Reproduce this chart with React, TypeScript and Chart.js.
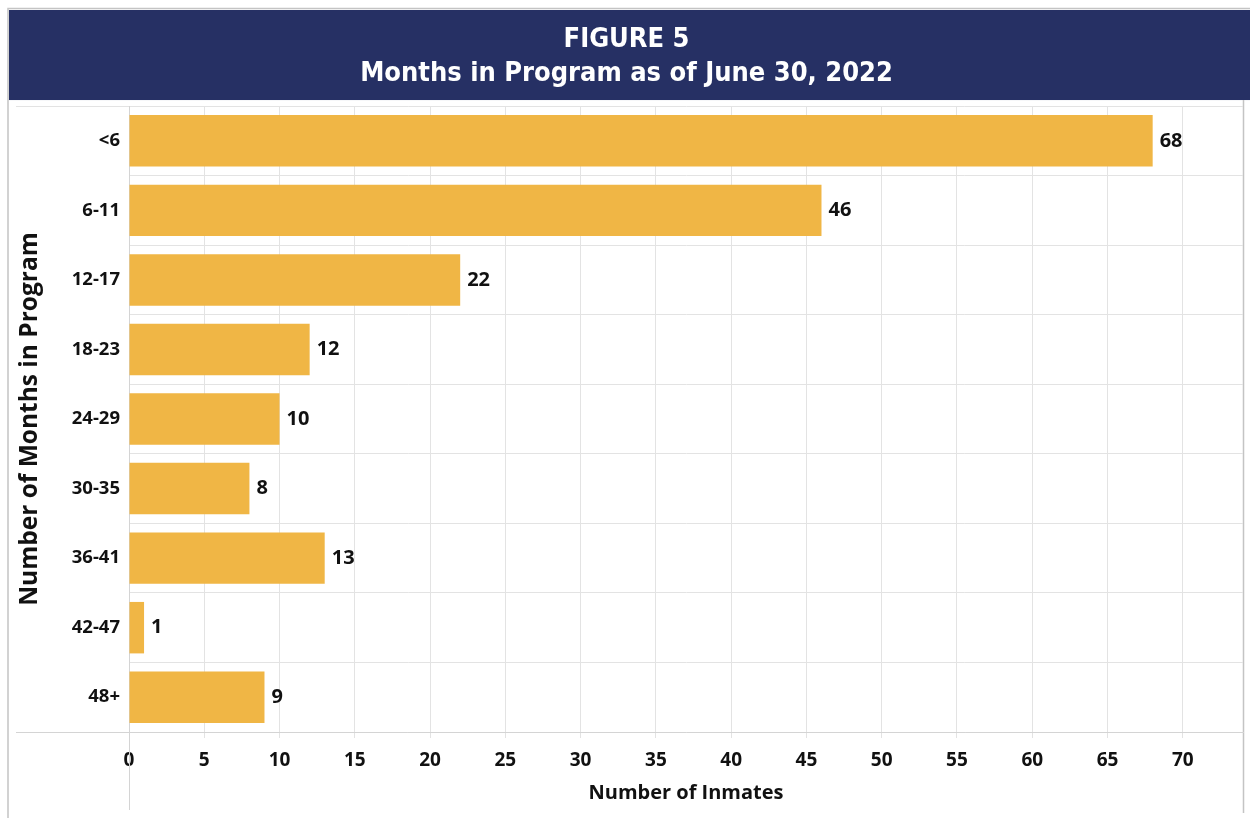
import { useEffect, useRef } from "react";
import { Chart, registerables } from "chart.js";

Chart.register(...registerables);

const categories = ["<6", "6-11", "12-17", "18-23", "24-29", "30-35", "36-41", "42-47", "48+"];
const inmates = [68, 46, 22, 12, 10, 8, 13, 1, 9];
const xTickValues = [0, 5, 10, 15, 20, 25, 30, 35, 40, 45, 50, 55, 60, 65, 70];
const titleLines = ["FIGURE 5", "Months in Program as of June 30, 2022"];
const xTitle = "Number of Inmates";
const yTitle = "Number of Months in Program";

const FONT = '"Open Sans", "DejaVu Sans", sans-serif';
const TITLE_FONT = '"DejaVu Sans Condensed", "DejaVu Sans", sans-serif';
const NAVY = "#263064";
const BAR = "#F0B645";
const GRID = "#E3E3E3";
const FRAME = "#C4C4C4";

const framePlugin = {
  id: "frameBanner",
  beforeDraw(chart: any) {
    const { ctx, width, height, chartArea } = chart;
    ctx.save();
    ctx.fillStyle = "#ffffff";
    ctx.fillRect(0, 0, width, height);
    // banner
    ctx.fillStyle = NAVY;
    ctx.fillRect(9, 10, width - 9, chartArea.top - 16);
    // frame
    ctx.strokeStyle = FRAME;
    ctx.lineWidth = 1.5;
    ctx.beginPath();
    ctx.moveTo(8, height);
    ctx.lineTo(8, 8.5);
    ctx.lineTo(width, 8.5);
    ctx.stroke();
    ctx.beginPath();
    ctx.moveTo(chartArea.right + 0.5, chartArea.top - 6);
    ctx.lineTo(chartArea.right + 0.5, height - 5);
    ctx.stroke();
    ctx.restore();
  },
  beforeDatasetsDraw(chart: any) {
    const { ctx, chartArea, height } = chart;
    ctx.save();
    ctx.strokeStyle = GRID;
    ctx.lineWidth = 1;
    ctx.beginPath();
    ctx.moveTo(16, Math.round(chartArea.top) + 0.5);
    ctx.lineTo(chartArea.left, Math.round(chartArea.top) + 0.5);
    ctx.stroke();
    ctx.strokeStyle = "#D4D4D4";
    ctx.beginPath();
    ctx.moveTo(16, Math.round(chartArea.bottom) + 0.5);
    ctx.lineTo(chartArea.left, Math.round(chartArea.bottom) + 0.5);
    ctx.stroke();
    ctx.beginPath();
    ctx.moveTo(Math.round(chartArea.left) + 0.5, chartArea.bottom);
    ctx.lineTo(Math.round(chartArea.left) + 0.5, height - 8);
    ctx.stroke();
    ctx.restore();
  },
};

const valueLabelPlugin = {
  id: "valueLabels",
  afterDatasetsDraw(chart: any) {
    const { ctx } = chart;
    const meta = chart.getDatasetMeta(0);
    const data = chart.data.datasets[0].data;
    ctx.save();
    ctx.fillStyle = "#111111";
    ctx.font = `bold 20px ${FONT}`;
    ctx.textAlign = "left";
    ctx.textBaseline = "middle";
    meta.data.forEach((bar: any, i: number) => {
      ctx.fillText(String(data[i]), bar.x + 7, bar.y);
    });
    ctx.restore();
  },
};

export default function App() {
  const canvasRef = useRef<HTMLCanvasElement>(null);

  useEffect(() => {
    document.body.style.margin = "0";
    const canvas = canvasRef.current;
    if (!canvas) return;
    const chart = new Chart(canvas, {
      type: "bar",
      data: {
        labels: categories,
        datasets: [
          {
            data: inmates,
            backgroundColor: BAR,
            borderWidth: 0,
            categoryPercentage: 1,
            barPercentage: 0.74,
          },
        ],
      },
      options: {
        indexAxis: "y",
        responsive: false,
        animation: false,
        devicePixelRatio: 1,
        layout: { padding: { left: 10, right: 7, top: 0, bottom: 0 } },
        plugins: {
          legend: { display: false },
          tooltip: { enabled: false },
          title: {
            display: true,
            text: titleLines,
            color: "#ffffff",
            font: { family: TITLE_FONT, size: 27, weight: "bold", lineHeight: 1.26 },
            padding: { top: 23, bottom: 15 },
          },
        },
        scales: {
          x: {
            type: "linear",
            min: 0,
            max: 74,
            afterBuildTicks: (scale: any) => {
              scale.ticks = xTickValues.map((v) => ({ value: v }));
            },
            afterFit: (scale: any) => {
              scale.height = 86;
            },
            grid: { color: GRID, drawTicks: true, tickLength: 6, tickColor: GRID },
            border: { color: "#D4D4D4" },
            ticks: {
              color: "#111111",
              padding: 11,
              font: { family: FONT, size: 19, weight: "bold" },
            },
            title: {
              display: true,
              text: xTitle,
              color: "#111111",
              font: { family: FONT, size: 20, weight: "bold" },
              padding: { top: 0, bottom: 13 },
            },
          },
          y: {
            type: "category",
            afterFit: (scale: any) => {
              scale.width = 119;
            },
            grid: { color: GRID, drawTicks: false },
            border: { color: "#D4D4D4" },
            ticks: {
              color: "#111111",
              padding: 9,
              font: { family: FONT, size: 18.5, weight: "bold" },
            },
            title: {
              display: true,
              text: yTitle,
              color: "#111111",
              font: { family: FONT, size: 24.5, weight: "bold" },
              padding: { top: 5, bottom: 0 },
            },
          },
        },
      },
      plugins: [framePlugin, valueLabelPlugin],
    } as any);
    return () => chart.destroy();
  }, []);

  return (
    <div style={{ width: 1250, height: 818 }}>
      <canvas ref={canvasRef} width={1250} height={818} style={{ display: "block" }} />
    </div>
  );
}
